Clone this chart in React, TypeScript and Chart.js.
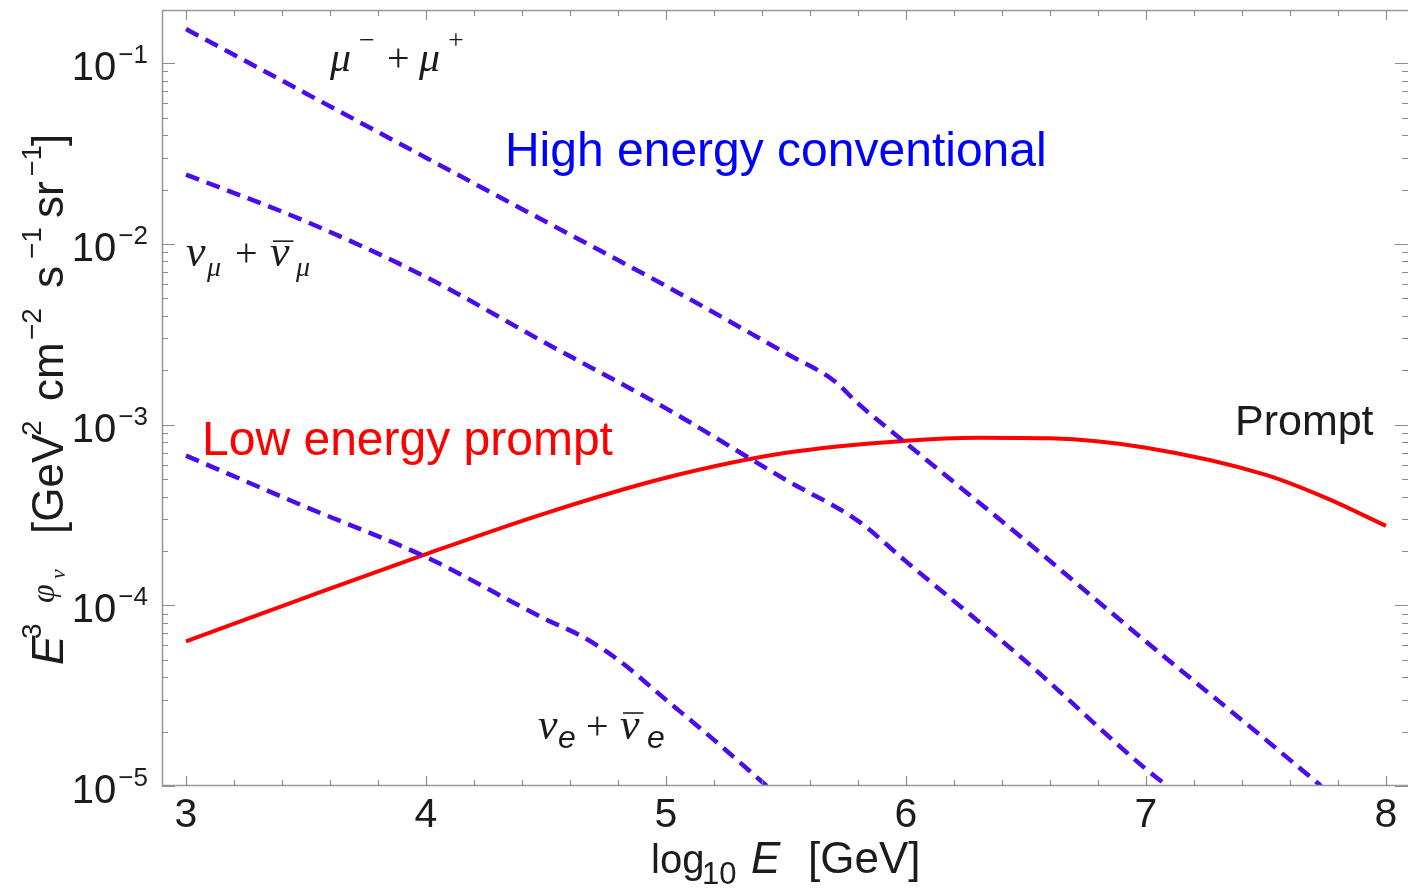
import React, { useEffect, useRef } from "react";
import { Chart, registerables } from "chart.js";

Chart.register(...registerables);

// ---------- data ----------
const muLogE = [3.0, 3.5, 4.0, 4.5, 5.0, 5.5, 5.7, 5.8, 6.0, 6.5, 7.0, 7.5, 7.73];
const muFlux = [0.1545, 0.068, 0.03, 0.01325, 5.85e-3, 2.48e-3, 1.75e-3, 1.31e-3, 7.9e-4, 2.27e-4, 6.3e-5, 1.8e-5, 1.0e-5];

const numuLogE = [3.0, 3.5, 4.0, 4.5, 5.0, 5.5, 5.8, 6.0, 6.5, 7.0, 7.09];
const numuFlux = [2.42e-2, 1.33e-2, 6.56e-3, 2.82e-3, 1.23e-3, 4.94e-4, 2.93e-4, 1.75e-4, 4.89e-5, 1.24e-5, 1.0e-5];

const nueLogE = [3.0, 3.5, 4.0, 4.5, 4.65, 4.8, 5.0, 5.2, 5.42];
const nueFlux = [6.73e-4, 3.5e-4, 1.85e-4, 8.35e-5, 6.73e-5, 5.0e-5, 3.0e-5, 1.8e-5, 1.0e-5];

const promptLogE = [3.0, 3.5, 4.0, 4.5, 5.0, 5.5, 6.0, 6.3, 6.6, 7.0, 7.5, 7.75, 8.0];
const promptFlux = [6.31e-5, 1.107e-4, 1.92e-4, 3.24e-4, 5.08e-4, 6.98e-4, 8.15e-4, 8.47e-4, 8.4e-4, 7.45e-4, 5.27e-4, 3.93e-4, 2.75e-4];

const xTickValues = [3, 4, 5, 6, 7, 8];
const xTickLabels = ["3", "4", "5", "6", "7", "8"];
const yTickValues = [1e-1, 1e-2, 1e-3, 1e-4, 1e-5];
const yTickExponents = ["\u22121", "\u22122", "\u22123", "\u22124", "\u22125"];

const X_MIN = 2.9;
const X_MAX = 8.092;
const Y_MIN = 1e-5;
const Y_MAX = 0.197;

// ---------- styles ----------
const SANS = '"Liberation Sans", Arial, Helvetica, sans-serif';
const SERIF = '"Liberation Serif", "Times New Roman", serif';
const DASH_COLOR = "rgb(74, 12, 236)";
const RED = "rgb(255, 0, 0)";
const FRAME = "#9a9a9a";
const TEXT = "#1c1c1c";

// segment: text, font, position along the baseline (at), vertical offset (dy)
type Seg = { t: string; f: string; at: number; dy?: number; over?: number };

function drawPlaced(ctx: CanvasRenderingContext2D, segs: Seg[], x: number, y: number, color: string) {
  ctx.fillStyle = color;
  ctx.strokeStyle = color;
  ctx.textAlign = "left";
  ctx.textBaseline = "alphabetic";
  for (const s of segs) {
    ctx.font = s.f;
    const cx = x + s.at;
    const yy = y + (s.dy || 0);
    ctx.fillText(s.t, cx, yy);
    if (s.over) {
      const w = ctx.measureText(s.t).width;
      ctx.lineWidth = 1.6;
      ctx.beginPath();
      ctx.moveTo(cx + 3, yy - s.over);
      ctx.lineTo(cx + w + 4, yy - s.over);
      ctx.stroke();
    }
  }
}

const zip = (xs: number[], ys: number[]) => xs.map((x, i) => ({ x, y: ys[i] }));

const decorPlugin = {
  id: "decor",
  afterDatasetsDraw(chart: any) {
    const ctx: CanvasRenderingContext2D = chart.ctx;
    const { left, right, top, bottom } = chart.chartArea;
    const xs = chart.scales.x;
    const ys = chart.scales.y;
    ctx.save();

    // frame (right edge falls at the image border)
    ctx.strokeStyle = FRAME;
    ctx.lineWidth = 1.6;
    ctx.beginPath();
    ctx.moveTo(right + 1, top + 0.5);
    ctx.lineTo(left + 0.5, top + 0.5);
    ctx.lineTo(left + 0.5, bottom - 0.5);
    ctx.lineTo(right + 1, bottom - 0.5);
    ctx.stroke();

    // ticks
    ctx.strokeStyle = "#8c8c8c";
    ctx.lineWidth = 1.2;
    const tickX = (v: number, len: number) => {
      const px = Math.round(xs.getPixelForValue(v)) + 0.5;
      ctx.beginPath();
      ctx.moveTo(px, bottom);
      ctx.lineTo(px, bottom - len);
      ctx.moveTo(px, top);
      ctx.lineTo(px, top + len);
      ctx.stroke();
    };
    const tickY = (v: number, len: number) => {
      const py = Math.round(ys.getPixelForValue(v)) + 0.5;
      ctx.beginPath();
      ctx.moveTo(left, py);
      ctx.lineTo(left + len, py);
      ctx.moveTo(right, py);
      ctx.lineTo(right - len, py);
      ctx.stroke();
    };
    for (let i = 0; i <= 45; i++) {
      const v = i / 5;
      if (v < X_MIN || v > X_MAX) continue;
      tickX(v, i % 5 === 0 ? 10 : 6);
    }
    for (let e = -6; e <= 0; e++) {
      for (let k = 1; k <= 9; k++) {
        const v = k * Math.pow(10, e);
        if (v < Y_MIN * 0.999 || v > Y_MAX) continue;
        tickY(v, k === 1 ? 13 : 6);
      }
    }

    // x tick labels
    ctx.fillStyle = TEXT;
    ctx.font = `41px ${SANS}`;
    ctx.textAlign = "center";
    ctx.textBaseline = "alphabetic";
    xTickValues.forEach((v, i) => {
      ctx.fillText(xTickLabels[i], xs.getPixelForValue(v), bottom + 41);
    });

    // y tick labels: 10^exp, right aligned
    yTickValues.forEach((v, i) => {
      const py = ys.getPixelForValue(v);
      const rightEdge = left - 14;
      ctx.textAlign = "left";
      ctx.font = `26px ${SANS}`;
      const supW = ctx.measureText(yTickExponents[i]).width;
      ctx.font = `40px ${SANS}`;
      const baseW = ctx.measureText("10").width;
      const x0 = rightEdge - supW - baseW - 2;
      ctx.fillText("10", x0, py + 17);
      ctx.font = `26px ${SANS}`;
      ctx.fillText(yTickExponents[i], x0 + baseW + 2, py);
    });

    // x axis title
    drawPlaced(
      ctx,
      [
        { t: "log", f: `40px ${SANS}`, at: 0 },
        { t: "10", f: `31px ${SANS}`, at: 51, dy: 11 },
        { t: "E", f: `italic 44px ${SANS}`, at: 100 },
        { t: "[GeV]", f: `44px ${SANS}`, at: 157 },
      ],
      651,
      873,
      TEXT
    );

    // y axis title (rotated, reading upwards)
    ctx.save();
    ctx.translate(63, 665);
    ctx.rotate(-Math.PI / 2);
    drawPlaced(
      ctx,
      [
        { t: "E", f: `italic 44px ${SANS}`, at: 0 },
        { t: "3", f: `28px ${SANS}`, at: 26, dy: -22 },
        { t: "\u03c6", f: `italic 34px ${SERIF}`, at: 62, dy: -9 },
        { t: "\u03bd", f: `italic 22px ${SERIF}`, at: 86, dy: 2 },
        { t: "[GeV", f: `44px ${SANS}`, at: 131 },
        { t: "2", f: `28px ${SANS}`, at: 229, dy: -22 },
        { t: "cm", f: `44px ${SANS}`, at: 264 },
        { t: "\u22122", f: `28px ${SANS}`, at: 325, dy: -22 },
        { t: "s", f: `44px ${SANS}`, at: 377 },
        { t: "\u22121", f: `28px ${SANS}`, at: 406, dy: -22 },
        { t: "sr", f: `44px ${SANS}`, at: 447 },
        { t: "\u22121", f: `27px ${SANS}`, at: 489, dy: -22 },
        { t: "]", f: `44px ${SANS}`, at: 519 },
      ],
      0,
      0,
      TEXT
    );
    ctx.restore();

    // annotations (anchored to data coordinates)
    const P = (vx: number, vy: number) => [xs.getPixelForValue(vx), ys.getPixelForValue(vy)];

    let [ax, ay] = P(4.329, 0.0269);
    ctx.font = `48px ${SANS}`;
    ctx.fillStyle = "rgb(0, 0, 255)";
    ctx.textAlign = "left";
    ctx.fillText("High energy conventional", ax, ay);

    [ax, ay] = P(3.067, 6.78e-4);
    ctx.fillStyle = RED;
    ctx.fillText("Low energy prompt", ax, ay);

    [ax, ay] = P(7.371, 8.75e-4);
    ctx.font = `43px ${SANS}`;
    ctx.fillStyle = TEXT;
    ctx.fillText("Prompt", ax, ay);

    [ax, ay] = P(3.6, 0.0904);
    drawPlaced(
      ctx,
      [
        { t: "\u03bc", f: `italic 42px ${SERIF}`, at: 0 },
        { t: "\u2212", f: `28px ${SERIF}`, at: 29, dy: -22 },
        { t: "+", f: `40px ${SERIF}`, at: 57 },
        { t: "\u03bc", f: `italic 42px ${SERIF}`, at: 89 },
        { t: "+", f: `28px ${SERIF}`, at: 118, dy: -22 },
      ],
      ax,
      ay,
      TEXT
    );

    [ax, ay] = P(3.008, 7.53e-3);
    drawPlaced(
      ctx,
      [
        { t: "\u03bd", f: `italic 44px ${SERIF}`, at: -2 },
        { t: "\u03bc", f: `italic 28px ${SERIF}`, at: 19, dy: 10 },
        { t: "+", f: `40px ${SERIF}`, at: 47 },
        { t: "\u03bd", f: `italic 44px ${SERIF}`, at: 82, over: 25 },
        { t: "\u03bc", f: `italic 28px ${SERIF}`, at: 108, dy: 10 },
      ],
      ax,
      ay,
      TEXT
    );

    [ax, ay] = P(4.475, 1.82e-5);
    drawPlaced(
      ctx,
      [
        { t: "\u03bd", f: `italic 44px ${SERIF}`, at: -2 },
        { t: "e", f: `italic 32px ${SANS}`, at: 18, dy: 9 },
        { t: "+", f: `40px ${SERIF}`, at: 46 },
        { t: "\u03bd", f: `italic 44px ${SERIF}`, at: 80, over: 26 },
        { t: "e", f: `italic 32px ${SANS}`, at: 107, dy: 9 },
      ],
      ax,
      ay,
      TEXT
    );

    ctx.restore();
  },
};

export default function App() {
  const canvasRef = useRef<HTMLCanvasElement | null>(null);

  useEffect(() => {
    const canvas = canvasRef.current;
    if (!canvas) return;
    const dashed = {
      borderColor: DASH_COLOR,
      borderWidth: 4.5,
      borderDash: [14, 8],
      pointRadius: 0,
      cubicInterpolationMode: "monotone" as const,
      fill: false,
    };
    const chart = new Chart(canvas, {
      type: "line",
      data: {
        datasets: [
          { label: "mu", data: zip(muLogE, muFlux), ...dashed },
          { label: "numu", data: zip(numuLogE, numuFlux), ...dashed },
          { label: "nue", data: zip(nueLogE, nueFlux), ...dashed },
          {
            label: "prompt",
            data: zip(promptLogE, promptFlux),
            borderColor: RED,
            borderWidth: 4,
            pointRadius: 0,
            cubicInterpolationMode: "monotone",
            fill: false,
          },
        ],
      },
      options: {
        responsive: false,
        animation: false,
        events: [],
        layout: { padding: { top: 10, right: 0, left: 0, bottom: 0 } },
        plugins: { legend: { display: false }, tooltip: { enabled: false } },
        scales: {
          x: {
            type: "linear",
            min: X_MIN,
            max: X_MAX,
            ticks: { display: false },
            grid: { display: false },
            border: { display: false },
            afterFit: (s: any) => {
              s.height = 103;
            },
          },
          y: {
            type: "logarithmic",
            min: Y_MIN,
            max: Y_MAX,
            ticks: { display: false },
            grid: { display: false },
            border: { display: false },
            afterFit: (s: any) => {
              s.width = 162;
            },
          },
        },
      },
      plugins: [decorPlugin],
    });
    return () => chart.destroy();
  }, []);

  return (
    <div style={{ position: "fixed", left: 0, top: 0, width: 1408, height: 889, background: "#fff" }}>
      <canvas ref={canvasRef} width={1408} height={889} style={{ display: "block" }} />
    </div>
  );
}
